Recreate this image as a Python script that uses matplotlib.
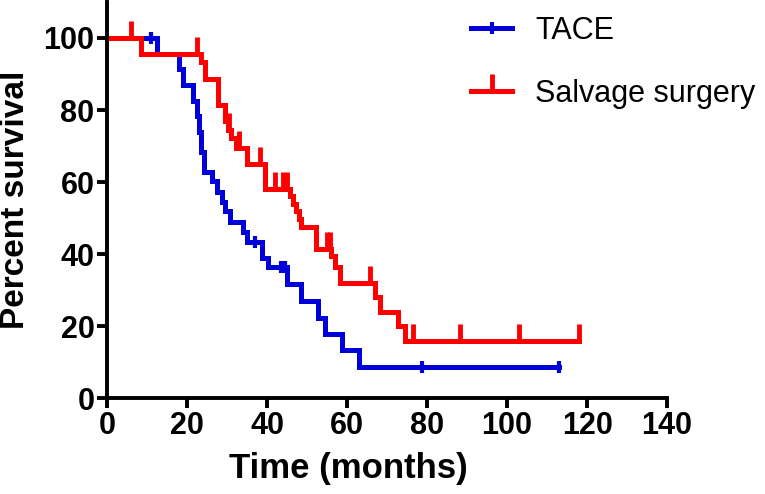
import numpy as np
import matplotlib
matplotlib.use("Agg")
import matplotlib.pyplot as plt

# -----------------------------
# Data
# -----------------------------
tace_time = [0, 12.5, 18, 19, 21.5, 22.5, 23.0, 23.4, 24.3, 26.3, 27.5, 28.7,
             29.5, 30.7, 34, 35, 38.7, 40.2, 45, 48.5, 52.8, 54.5, 58.7, 63, 113]
tace_surv = [100, 95.6, 91.3, 87.0, 82.6, 78.3, 73.9, 68.4, 62.8, 60.3, 57.2,
             54.5, 52.0, 49.0, 46.0, 43.3, 39.0, 36.3, 31.6, 27.0, 22.3, 17.9,
             13.4, 8.7, 8.7]
tace_censor = [11, 37, 43.5, 44.5, 78.7, 113]

salv_time = [0, 8.5, 23.5, 24.5, 27.7, 29.5, 30.2, 31.0, 32.2, 35.0, 39.5,
             45.7, 46.5, 47.3, 48.0, 48.5, 52.3, 56.0, 57.0, 58.3, 67.0, 68.2,
             72.7, 74.5, 118]
salv_surv = [100, 95.5, 93.2, 88.5, 81.5, 77.0, 74.5, 72.3, 69.5, 65.0, 58.0,
             56.0, 54.0, 52.0, 49.7, 47.5, 41.5, 39.5, 36.5, 32.0, 28.0, 24.0,
             20.0, 15.8, 15.8]
salv_censor = [6, 22.5, 30.6, 33.0, 38.3, 42, 44, 45, 55, 55.7, 65.7, 76.5,
               88.3, 103, 118]

x_ticks = [0, 20, 40, 60, 80, 100, 120, 140]
y_ticks = [0, 20, 40, 60, 80, 100]

blue = "#0000d8"
red = "#ff0000"


def surv_at(times, surv, t):
    times = np.asarray(times)
    idx = np.searchsorted(times, t, side="right") - 1
    return np.asarray(surv)[idx]


plt.rcParams["font.family"] = ["Liberation Sans", "DejaVu Sans"]

fig = plt.figure(figsize=(7.65, 4.94), dpi=100)
ax = fig.add_axes([0.140, 0.194, 0.732, 0.802])

# -----------------------------
# TACE curve
# -----------------------------
ax.step(tace_time, tace_surv, where="post", color=blue, linewidth=3.6,
        solid_joinstyle="miter")
ax.plot(tace_censor, surv_at(tace_time, tace_surv, tace_censor),
        linestyle="none", marker="|", markersize=9, markeredgewidth=3,
        color=blue)

# -----------------------------
# Salvage surgery curve
# -----------------------------
ax.step(salv_time, salv_surv, where="post", color=red, linewidth=3.6,
        solid_joinstyle="miter")
ax.plot(salv_censor, surv_at(salv_time, salv_surv, salv_censor),
        linestyle="none", marker=2, markersize=12, markeredgewidth=3.5,
        color=red)

# legend handles
ax.plot([], [], color=blue, linewidth=3.6, marker="|", markersize=9,
        markeredgewidth=3, label="TACE")
ax.plot([], [], color=red, linewidth=3.6, marker=2, markersize=12,
        markeredgewidth=3.5, label="Salvage surgery")

handles, labels = ax.get_legend_handles_labels()
fig.legend(handles, labels, loc="upper left",
           bbox_to_anchor=(0.580, 1.023), frameon=False, fontsize=22,
           handlelength=1.35, handletextpad=0.75, labelspacing=1.08,
           numpoints=1)

# -----------------------------
# Axes styling
# -----------------------------
ax.set_xlim(0, 140)
ax.set_ylim(0, 110)
ax.set_xticks(x_ticks)
ax.set_yticks(y_ticks)
ax.set_xticklabels([str(v) for v in x_ticks], fontsize=22, fontweight="bold")
ax.set_yticklabels([str(v) for v in y_ticks], fontsize=22, fontweight="bold")

for side in ["top", "right"]:
    ax.spines[side].set_visible(False)
for side in ["left", "bottom"]:
    ax.spines[side].set_linewidth(2.8)

ax.tick_params(direction="out", length=7, width=2.8, pad=2)

ax.set_xlabel("Time (months)", fontsize=25, fontweight="bold")
ax.set_ylabel("Percent survival", fontsize=24, fontweight="bold")
ax.xaxis.set_label_coords(0.43, -0.136)
ax.yaxis.set_label_coords(-0.136, 0.5)

fig.savefig("out.png", dpi=100)
